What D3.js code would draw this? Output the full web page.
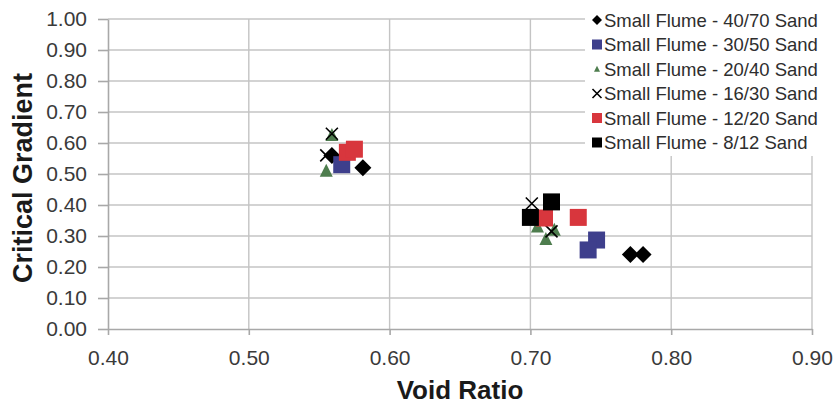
<!DOCTYPE html>
<html>
<head>
<meta charset="utf-8">
<script src="https://cdn.jsdelivr.net/npm/d3@7/dist/d3.min.js"></script>
<style>
  html, body { margin: 0; padding: 0; background: #fff; }
  svg { display: block; font-family: "Liberation Sans", Arial, Helvetica, sans-serif; }
</style>
</head>
<body>
<svg id="chart" width="837" height="404"></svg>
<script>
// Sand series: [void ratio, critical gradient]
const seriesNames = [
  "Small Flume - 40/70 Sand",
  "Small Flume - 30/50 Sand",
  "Small Flume - 20/40 Sand",
  "Small Flume - 16/30 Sand",
  "Small Flume - 12/20 Sand",
  "Small Flume - 8/12 Sand"
];
const sand4070 = [[0.559, 0.56], [0.581, 0.52], [0.771, 0.24], [0.780, 0.24]];
const sand3050 = [[0.566, 0.53], [0.747, 0.287], [0.741, 0.255]];
const sand2040 = [[0.559, 0.625], [0.555, 0.51], [0.705, 0.33], [0.717, 0.32], [0.711, 0.29]];
const sand1630 = [[0.559, 0.63], [0.555, 0.56], [0.701, 0.405], [0.715, 0.315]];
const sand1220 = [[0.570, 0.57], [0.575, 0.58], [0.710, 0.358], [0.734, 0.36]];
const sand0812 = [[0.700, 0.36], [0.715, 0.41]];

const xTicks = [0.40, 0.50, 0.60, 0.70, 0.80, 0.90];
const yTicks = [0.00, 0.10, 0.20, 0.30, 0.40, 0.50, 0.60, 0.70, 0.80, 0.90, 1.00];

const seriesData = [sand4070, sand3050, sand2040, sand1630, sand1220, sand0812];
const markerKinds = ["diamond", "square", "triangle", "cross", "square", "square"];
const colors = ["#000000", "#3e3f8c", "#4e7d4e", "#000000", "#d8363d", "#000000"];
const markerSizes = [17, 17, 13, 12, 17, 17];
const legendSizes = [10, 10, 6, 9, 10, 10];

const svg = d3.select("#chart");
const plot = { left: 108, right: 812, top: 19, bottom: 329 };

const x = d3.scaleLinear().domain([0.40, 0.90]).range([plot.left, plot.right]);
const y = d3.scaleLinear().domain([0.00, 1.00]).range([plot.bottom, plot.top]);

// grid
const grid = svg.append("g");
grid.selectAll("line.h").data(yTicks.filter(d => d > 0)).join("line")
  .attr("x1", plot.left).attr("x2", plot.right)
  .attr("y1", d => y(d)).attr("y2", d => y(d))
  .attr("stroke", "#c4c4c4").attr("stroke-width", 1.4);
grid.selectAll("line.v").data(xTicks.filter(d => d > 0.4)).join("line")
  .attr("x1", d => x(d)).attr("x2", d => x(d))
  .attr("y1", plot.top).attr("y2", plot.bottom)
  .attr("stroke", "#c4c4c4").attr("stroke-width", 1.4);

// axes
const yAxis = d3.axisLeft(y).tickValues(yTicks).tickFormat(d3.format(".2f"))
  .tickSizeInner(10).tickSizeOuter(0).tickPadding(11);
const xAxis = d3.axisBottom(x).tickValues(xTicks).tickFormat(d3.format(".2f"))
  .tickSizeInner(6).tickSizeOuter(0).tickPadding(15);

const gy = svg.append("g").attr("transform", `translate(${plot.left},0)`).call(yAxis);
const gx = svg.append("g").attr("transform", `translate(0,${plot.bottom})`).call(xAxis);
[gx, gy].forEach(g => {
  g.select(".domain").attr("stroke", "#a8a8a8").attr("stroke-width", 1.6);
  g.selectAll(".tick line").attr("stroke", "#a8a8a8").attr("stroke-width", 1.6);
  g.selectAll(".tick text").attr("fill", "#3a3a3a").attr("font-size", 21)
    .style("font-family", '"Liberation Sans", Arial, sans-serif');
});

// axis titles
svg.append("text")
  .attr("x", (plot.left + plot.right) / 2).attr("y", 399)
  .attr("text-anchor", "middle").attr("font-size", 26).attr("font-weight", "bold")
  .attr("fill", "#1a1a1a").text("Void Ratio");
svg.append("text")
  .attr("transform", `translate(32,${(plot.top + plot.bottom) / 2 + 4}) rotate(-90)`)
  .attr("text-anchor", "middle").attr("font-size", 27).attr("font-weight", "bold")
  .attr("fill", "#1a1a1a").text("Critical Gradient");

// marker drawing
function markerPath(kind, s) {
  const h = s / 2;
  if (kind === "diamond") return `M0,${-h}L${h},0L0,${h}L${-h},0Z`;
  if (kind === "square") return `M${-h},${-h}H${h}V${h}H${-h}Z`;
  if (kind === "triangle") return `M0,${-h * 1.1}L${h},${h * 0.9}L${-h},${h * 0.9}Z`;
  if (kind === "cross") return `M${-h},${-h}L${h},${h}M${h},${-h}L${-h},${h}`;
  return "";
}
function styleMarker(sel, i) {
  if (markerKinds[i] === "cross") {
    sel.attr("fill", "none").attr("stroke", colors[i]).attr("stroke-width", 1.6);
  } else {
    sel.attr("fill", colors[i]).attr("stroke", "none");
  }
}

const points = svg.append("g");
seriesData.forEach((data, i) => {
  points.append("g").selectAll("path").data(data).join("path")
    .attr("transform", d => `translate(${x(d[0])},${y(d[1])})`)
    .attr("d", markerPath(markerKinds[i], markerSizes[i]))
    .call(styleMarker, i);
});

// legend
const legend = svg.append("g");
legend.append("rect").attr("x", 585).attr("y", 4).attr("width", 252).attr("height", 152).attr("fill", "#fff");
const rowY = i => 20 + i * 24.5;
seriesNames.forEach((name, i) => {
  legend.append("path")
    .attr("transform", `translate(597,${rowY(i)})`)
    .attr("d", markerPath(markerKinds[i], legendSizes[i]))
    .call(styleMarker, i);
  legend.append("text")
    .attr("x", 604).attr("y", rowY(i)).attr("dy", "0.36em")
    .attr("font-size", 18.5).attr("fill", "#2e2e2e")
    .text(name);
});
</script>
</body>
</html>
